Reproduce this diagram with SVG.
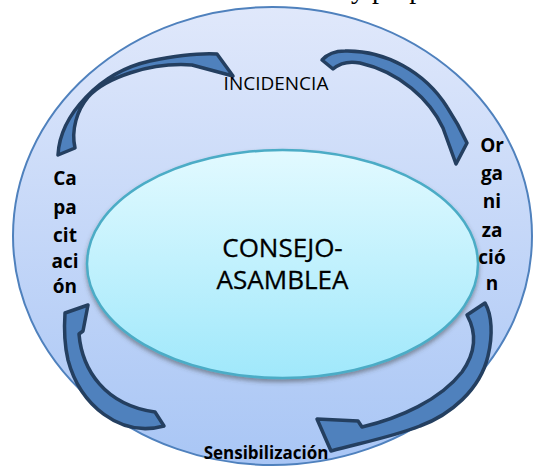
<svg xmlns="http://www.w3.org/2000/svg" width="536" height="466" viewBox="0 0 536 466">
<style>
.lbl{font-family:"Open Sans","Liberation Sans",sans-serif;fill:#000;text-anchor:middle}
.b{font-weight:bold}
.arrow{fill:#4f81bd;stroke:#243f60;stroke-width:3.5;stroke-linejoin:round}
</style>
<defs>
<linearGradient id="gOuter" x1="0" y1="0" x2="0" y2="1">
<stop offset="0" stop-color="#e0e8fb"/>
<stop offset="1" stop-color="#a9c6f5"/>
</linearGradient>
<linearGradient id="gInner" x1="0" y1="0" x2="0" y2="1">
<stop offset="0" stop-color="#e2faff"/>
<stop offset="1" stop-color="#a0e8fb"/>
</linearGradient>
<filter id="sh" x="-10%" y="-10%" width="120%" height="125%">
<feDropShadow dx="0" dy="3" stdDeviation="2" flood-color="#404040" flood-opacity="0.5"/>
</filter>
</defs>
<rect width="536" height="466" fill="#fff"/>
<text x="351" y="-2" font-family="'Liberation Serif',serif" font-size="28" fill="#000">y propuestas</text>
<g id="outer">
<ellipse cx="272.5" cy="236" rx="259.5" ry="229" fill="url(#gOuter)" stroke="#4f81bd" stroke-width="2"/>
</g>
<g id="consejo">
<ellipse cx="282.5" cy="264" rx="195.5" ry="114" fill="url(#gInner)" stroke="#4bacc6" stroke-width="2.5" filter="url(#sh)"/>
<text class="lbl" x="282.5" y="257" font-size="26" stroke="#000" stroke-width="0.3">CONSEJO-</text>
<text class="lbl" x="282.5" y="289" font-size="26" stroke="#000" stroke-width="0.3">ASAMBLEA</text>
</g>
<g id="connectors">
<path class="arrow" d="M58,155 C60,115 100,72 150,61 C175,56 200,53 217,54 L233,76 L192,65 C150,62 105,78 88,97 C77,110 71,130 75,148 Z"/>
<path class="arrow" d="M333,69 L322,60 Q330,51 345,51 C385,50 425,72 447,107 C455,119 462,132 467,143 L456,164 L443,128 C430,100 400,72 360,63 C350,61 340,63 333,69 Z"/>
<path class="arrow" d="M467,315 L485,303 C492,315 493,335 488,356 C480,390 450,415 420,426 C395,436 365,442 331,451 L317,419 L358,421 L362,427 C400,418 440,400 462,372 C474,355 478,335 467,315 Z"/>
<path class="arrow" d="M65,313 L88,305 L83,331 L79,334 C82,370 105,405 155,412 L164,426 C120,438 80,405 68,360 C64,343 64,328 65,313 Z"/>
</g>
<g id="incidencia">
<text class="lbl" x="276" y="90" font-size="19">INCIDENCIA</text>
</g>
<g id="organizacion">
<text class="lbl b" x="492" y="152" font-size="19">Or</text>
<text class="lbl b" x="492" y="180" font-size="19">ga</text>
<text class="lbl b" x="492" y="208" font-size="19">ni</text>
<text class="lbl b" x="492" y="237" font-size="19">za</text>
<text class="lbl b" x="492" y="264" font-size="19">ció</text>
<text class="lbl b" x="492" y="290" font-size="19">n</text>
</g>
<g id="sensibilizacion">
<text class="lbl b" x="266" y="459" font-size="17">Sensibilización</text>
</g>
<g id="capacitacion">
<text class="lbl b" x="65" y="185" font-size="19">Ca</text>
<text class="lbl b" x="65" y="214" font-size="19">pa</text>
<text class="lbl b" x="65" y="242" font-size="19">cit</text>
<text class="lbl b" x="65" y="268" font-size="19">aci</text>
<text class="lbl b" x="65" y="293" font-size="19">ón</text>
</g>
</svg>
